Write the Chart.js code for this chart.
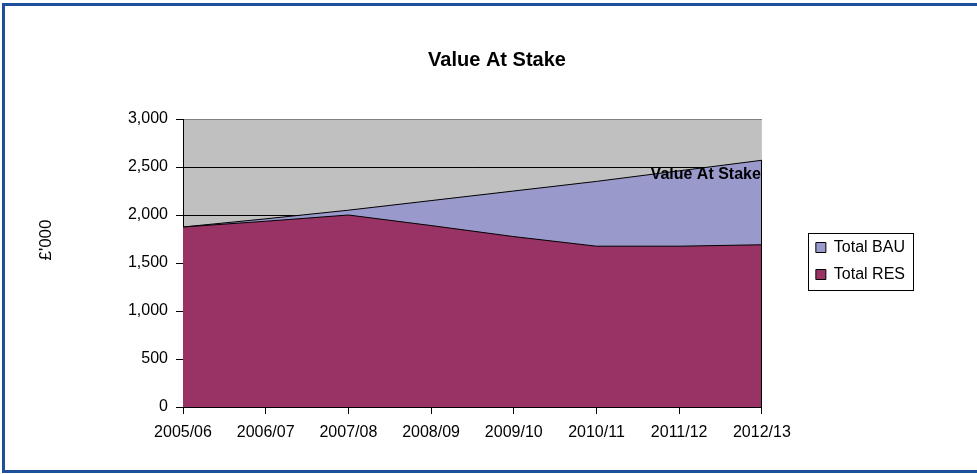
<!DOCTYPE html>
<html>
<head>
<meta charset="utf-8">
<title>Value At Stake</title>
<script src="https://cdn.jsdelivr.net/npm/chart.js@4/dist/chart.umd.min.js"></script>
<style>
  html, body { margin: 0; padding: 0; background: #fff; }
  canvas { display: block; }
</style>
</head>
<body>
<canvas id="stakeChart" width="977" height="474"></canvas>
<script>
// data (£'000)
const years = ['2005/06', '2006/07', '2007/08', '2008/09', '2009/10', '2010/11', '2011/12', '2012/13'];
const totalBAU = [1875, 1960, 2050, 2150, 2250, 2350, 2460, 2570];
const totalRES = [1875, 1935, 2000, 1890, 1775, 1675, 1675, 1690];
const yTicks = [0, 500, 1000, 1500, 2000, 2500, 3000];

const chartTitle = 'Value At Stake';
const yTitle = "£'000";
const noteText = 'Value At Stake';

Chart.defaults.font.family = '"Liberation Sans", Arial, sans-serif';
Chart.defaults.color = '#000';

// white page, blue frame, grey plot background
const framePlugin = {
    id: 'frame',
    afterLayout(chart) {
        // legend sits a bit lower than chart.js would centre it
        chart.legend.top += 40;
        chart.legend.bottom += 40;
    },
    beforeDraw(chart) {
        const ctx = chart.ctx;
        const area = chart.chartArea;
        ctx.save();
        ctx.fillStyle = '#fff';
        ctx.fillRect(0, 0, chart.width, chart.height);
        ctx.fillStyle = '#C0C0C0';
        ctx.fillRect(area.left, area.top, area.right - area.left, area.bottom - area.top);
        ctx.strokeStyle = '#1C4F9C';
        ctx.lineWidth = 3;
        ctx.beginPath();
        ctx.moveTo(chart.width + 5, 4.5);
        ctx.lineTo(3.5, 4.5);
        ctx.lineTo(3.5, 471.5);
        ctx.lineTo(chart.width + 5, 471.5);
        ctx.stroke();
        ctx.restore();
    }
};

// outline on the right edge of the area, the note, the axis title and the legend box
const extrasPlugin = {
    id: 'extras',
    afterDatasetsDraw(chart) {
        const ctx = chart.ctx;
        const meta = chart.getDatasetMeta(1);
        const last = meta.data[meta.data.length - 1];
        ctx.save();
        ctx.strokeStyle = '#000';
        ctx.lineWidth = 1;
        ctx.beginPath();
        ctx.moveTo(Math.round(last.x) - 0.5, last.y);
        ctx.lineTo(Math.round(last.x) - 0.5, chart.chartArea.bottom);
        ctx.stroke();
        ctx.restore();
    },
    afterDraw(chart) {
        const ctx = chart.ctx;
        const area = chart.chartArea;
        const y = chart.scales.y;
        ctx.save();
        ctx.fillStyle = '#000';

        ctx.font = 'bold 16px "Liberation Sans", Arial, sans-serif';
        ctx.textAlign = 'right';
        ctx.textBaseline = 'middle';
        ctx.fillText(noteText, area.right - 1, y.getPixelForValue(2425));

        ctx.font = '17px "Liberation Sans", Arial, sans-serif';
        ctx.translate(46, (area.top + area.bottom) / 2 - 23);
        ctx.rotate(-Math.PI / 2);
        ctx.textAlign = 'center';
        ctx.fillText(yTitle, 0, 0);
        ctx.restore();

        const boxes = chart.legend.legendHitBoxes;
        if (boxes && boxes.length) {
            const first = boxes[0];
            const lastBox = boxes[boxes.length - 1];
            const w = Math.max(...boxes.map(b => b.width));
            ctx.save();
            ctx.strokeStyle = '#000';
            ctx.lineWidth = 1;
            ctx.strokeRect(Math.round(first.left - 8) + 0.5, Math.round(first.top - 7) + 0.5,
                Math.round(w + 16), Math.round(lastBox.top + lastBox.height - first.top + 14));
            ctx.restore();
        }
    }
};

const ctx = document.getElementById('stakeChart').getContext('2d');
const stakeChart = new Chart(ctx, {
    type: 'line',
    data: {
        labels: years,
        datasets: [
            {
                label: 'Total RES',
                data: totalRES,
                backgroundColor: '#993366',
                borderColor: '#000',
                borderWidth: 1,
                fill: 'origin',
                pointRadius: 0,
                tension: 0
            },
            {
                label: 'Total BAU',
                data: totalBAU,
                backgroundColor: '#9999CC',
                borderColor: '#000',
                borderWidth: 1,
                fill: 'origin',
                pointRadius: 0,
                tension: 0
            }
        ]
    },
    options: {
        responsive: false,
        animation: false,
        devicePixelRatio: 1,
        locale: 'en-US',
        layout: {
            padding: { left: 79, right: 62, top: 0, bottom: 32 }
        },
        plugins: {
            title: {
                display: true,
                text: chartTitle,
                color: '#000',
                font: { size: 20, weight: 'bold' },
                padding: { top: 48, bottom: 47 }
            },
            legend: {
                position: 'right',
                reverse: true,
                labels: {
                    boxWidth: 10,
                    boxHeight: 10,
                    padding: 11,
                    color: '#000',
                    font: { size: 16 }
                }
            },
            tooltip: { enabled: false }
        },
        scales: {
            x: {
                offset: false,
                grid: {
                    drawOnChartArea: false,
                    color: '#000',
                    tickLength: 7
                },
                border: { color: '#000' },
                ticks: {
                    color: '#000',
                    font: { size: 16 },
                    padding: 9,
                    maxRotation: 0,
                    autoSkip: false
                },
                afterFit(scale) { scale.height = 35; }
            },
            y: {
                min: 0,
                max: 3000,
                afterBuildTicks(scale) {
                    scale.ticks = yTicks.map(v => ({ value: v }));
                },
                grid: {
                    color: c => (c.tick && c.tick.value === 3000 ? '#808080' : '#000'),
                    tickColor: '#000',
                    tickLength: 7
                },
                border: { color: '#000' },
                ticks: {
                    color: '#000',
                    font: { size: 16 },
                    padding: 8
                },
                afterFit(scale) { scale.width = 104; }
            },
            gap: {
                type: 'linear',
                position: 'right',
                display: true,
                grid: { display: false },
                border: { display: false },
                ticks: { display: false },
                afterFit(scale) { scale.width = 43; }
            }
        }
    },
    plugins: [framePlugin, extrasPlugin]
});
</script>
</body>
</html>
